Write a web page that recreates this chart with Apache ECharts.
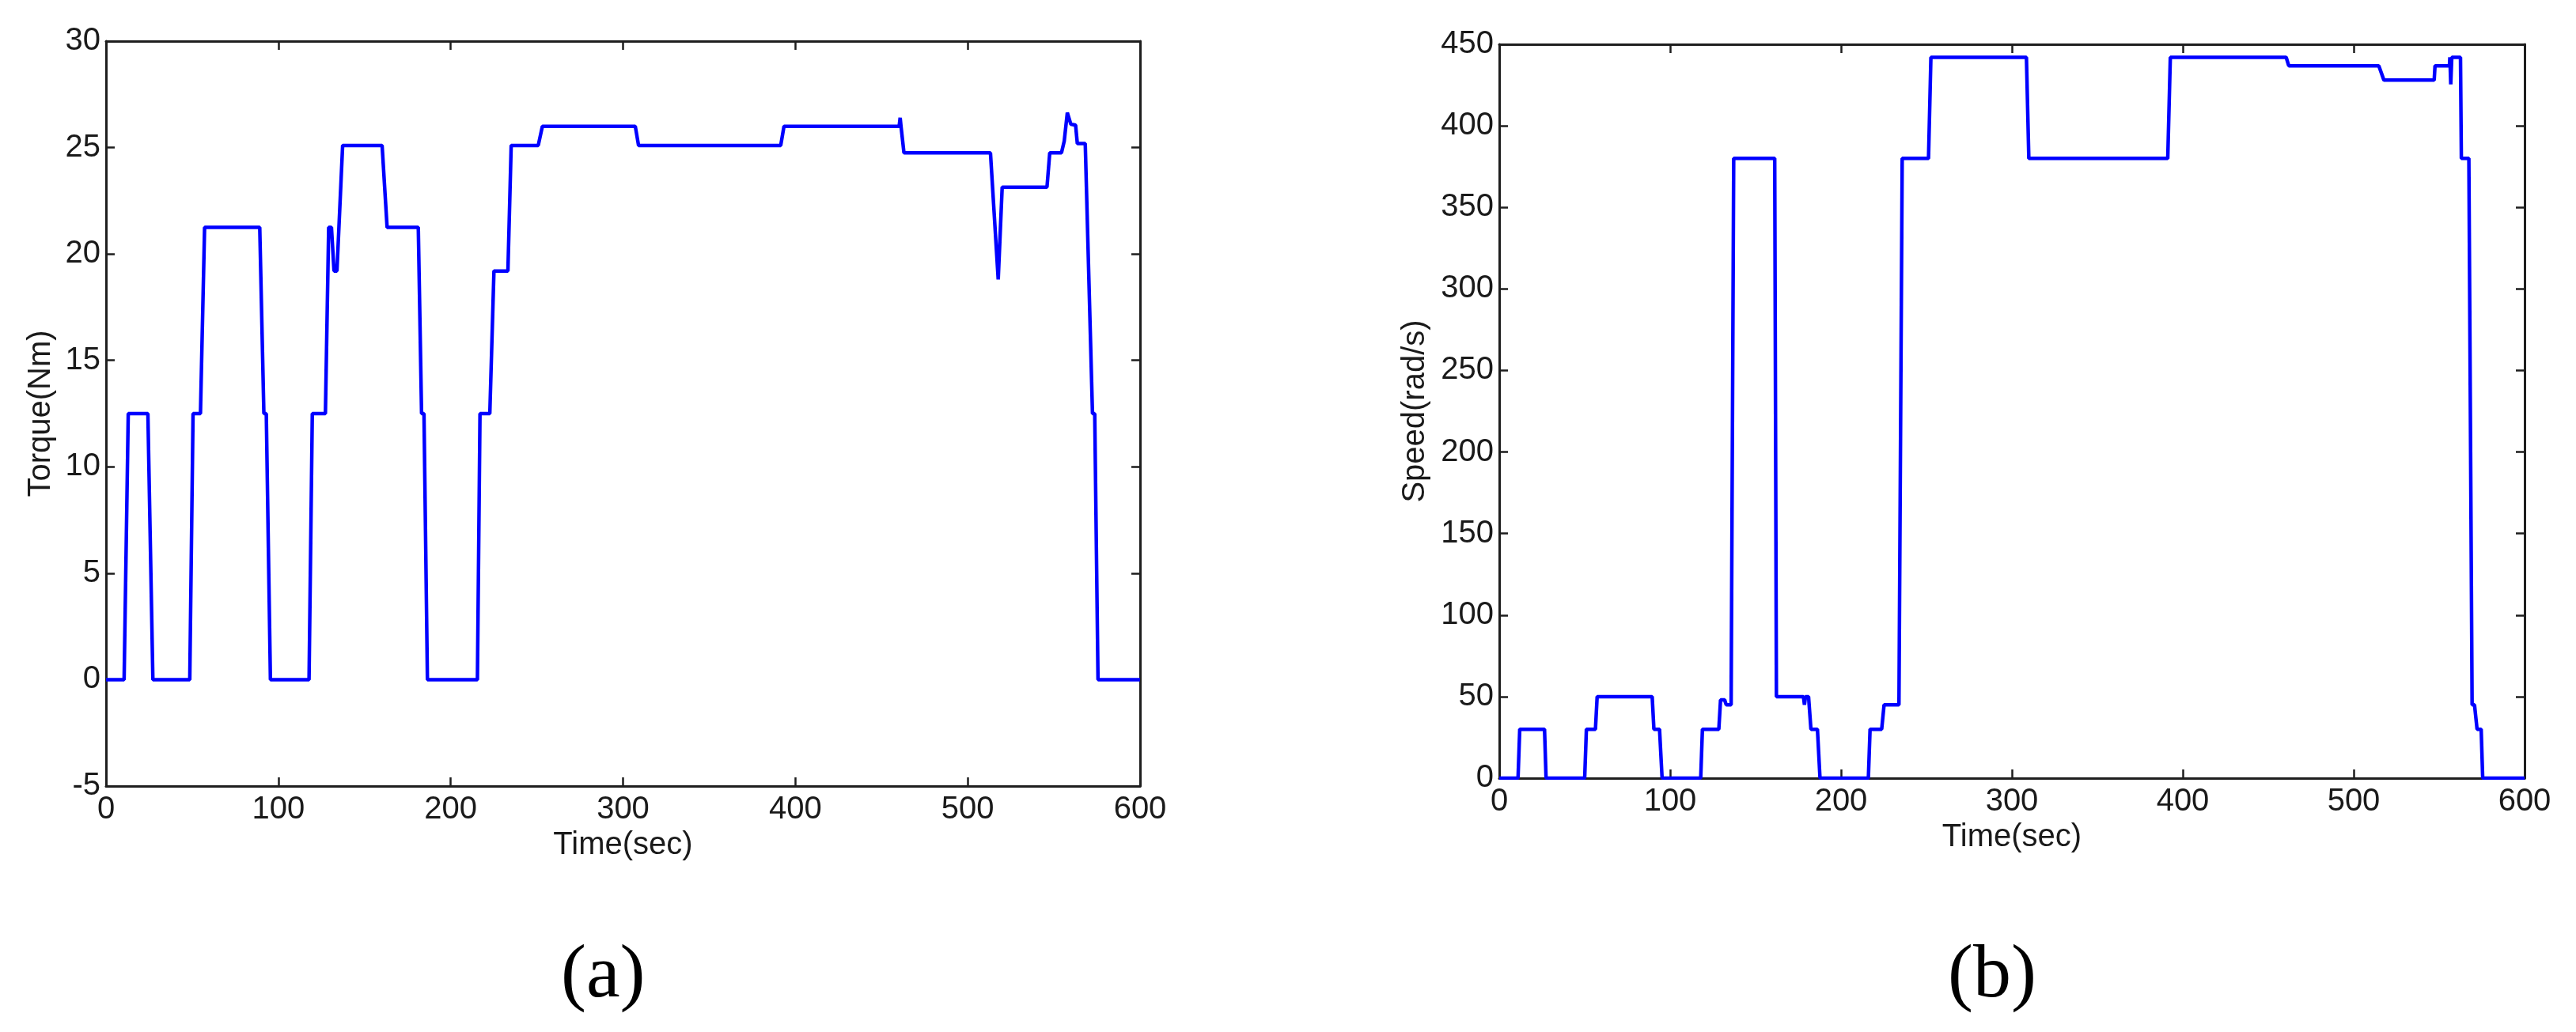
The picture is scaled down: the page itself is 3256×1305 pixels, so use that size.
<!DOCTYPE html>
<html>
<head>
<meta charset="utf-8">
<script src="https://cdn.jsdelivr.net/npm/echarts@6/dist/echarts.min.js"></script>
<style>
  html, body { margin: 0; padding: 0; background: #fff; }
  #ch { width: 3256px; height: 1305px; }
</style>
</head>
<body>
<div id="ch"></div>
<script>
// (a) torque vs time
var torqueT = [0, 10.5, 12.9, 24.3, 27.2, 48.6, 50.5, 54.8, 57.2, 89.2, 91.6, 93, 95.4,
  117.8, 119.7, 127.3, 129.2, 130.8, 132.3, 134, 137.3, 160.2, 163.1, 181.2, 183.1, 184.5, 186.5,
  215.5, 217, 222.7, 225.1, 233.2, 235.1, 250.8, 253.2, 307.1, 309, 391.5, 393.4, 460.2, 460.8, 461.3, 463,
  513.2, 517.7, 520, 546, 547.6, 554.4, 556, 557.8, 559.8, 562.6, 563.6, 568.2, 572.4, 573.7, 575.6, 600];
var torqueV = [0, 0, 12.5, 12.5, 0, 0, 12.5, 12.5, 21.25, 21.25, 12.5, 12.5, 0,
  0, 12.5, 12.5, 21.25, 21.25, 19.2, 19.2, 25.1, 25.1, 21.25, 21.25, 12.5, 12.5, 0,
  0, 12.5, 12.5, 19.2, 19.2, 25.1, 25.1, 26, 26, 25.1, 25.1, 26, 26, 26.4, 26, 24.75,
  24.75, 18.8, 23.14, 23.14, 24.75, 24.75, 25.3, 26.64, 26.1, 26.05, 25.19, 25.19, 12.5, 12.5, 0, 0];

// (b) speed vs time
var speedT = [0, 11, 12, 26.5, 27.4, 50, 51, 56.3, 57.3, 89.5, 90.5, 93.8, 95.3,
  117.9, 118.9, 128.5, 129.5, 131.9, 132.8, 135.7, 137.2, 161.2, 162.2, 178, 178.6, 179.2, 181, 182.4, 186.2, 187.7,
  216, 217, 223.8, 225.2, 233.9, 235.8, 251.2, 252.6, 308.5, 309.9, 391.2, 392.7, 460.5, 462,
  514.7, 517.7, 547.1, 547.6, 556, 556.3, 556.8, 557.4, 562.5, 563, 567.4, 569.3, 570.7, 572.2, 574.6, 575.5, 600];
var speedV = [0, 0, 30, 30, 0, 0, 30, 30, 50, 50, 30, 30, 0,
  0, 30, 30, 48, 48, 45, 45, 380, 380, 50, 50, 45, 50, 50, 30, 30, 0,
  0, 30, 30, 45, 45, 380, 380, 442, 442, 380, 380, 442, 442, 436.8,
  436.8, 428, 428, 436.8, 436.8, 442, 425.4, 442, 442, 380, 380, 45, 45, 30, 30, 0, 0];

var timeTicks = [0, 600, 100];
var torqueTicks = [-5, 30, 5];
var speedTicks = [0, 450, 50];

function pairs(xs, ys) {
  return xs.map(function (x, i) { return [x, ys[i]]; });
}

var frame = { show: true, onZero: false, lineStyle: { color: '#1e1e1e', width: 3 } };
var ticks = { show: true, inside: true, length: 11, lineStyle: { color: '#1e1e1e', width: 2.5 } };
var lbl = { color: '#1a1a1a', fontFamily: 'Liberation Sans', fontSize: 40 };

function xAx(grid, pos, ticks3, withLabel) {
  return {
    type: 'value', gridIndex: grid, position: pos,
    min: ticks3[0], max: ticks3[1], interval: ticks3[2],
    axisLine: frame, axisTick: ticks, splitLine: { show: false },
    axisLabel: withLabel ? Object.assign({ margin: 10, showMinLabel: true, showMaxLabel: true }, lbl) : { show: false },
    name: withLabel ? 'Time(sec)' : '', nameLocation: 'middle', nameGap: 48,
    nameTextStyle: lbl
  };
}
function yAx(grid, pos, ticks3, withLabel, name, gap) {
  return {
    type: 'value', gridIndex: grid, position: pos,
    min: ticks3[0], max: ticks3[1], interval: ticks3[2],
    axisLine: frame, axisTick: ticks, splitLine: { show: false },
    axisLabel: withLabel ? Object.assign({ margin: 7, showMinLabel: true, showMaxLabel: true }, lbl) : { show: false },
    name: withLabel ? name : '', nameLocation: 'middle', nameGap: gap,
    nameTextStyle: lbl
  };
}

window.onload = function () {
  var ch = echarts.init(document.getElementById('ch'));
  var op = {
    backgroundColor: '#fff',
    animation: false,
    grid: [
      { left: 134, top: 52, width: 1307, height: 942 },
      { left: 1895, top: 56, width: 1296, height: 928 }
    ],
    xAxis: [
      xAx(0, 'bottom', timeTicks, true),
      xAx(0, 'top', timeTicks, false),
      xAx(1, 'bottom', timeTicks, true),
      xAx(1, 'top', timeTicks, false)
    ],
    yAxis: [
      yAx(0, 'left', torqueTicks, true, 'Torque(Nm)', 62),
      yAx(0, 'right', torqueTicks, false, '', 0),
      yAx(1, 'left', speedTicks, true, 'Speed(rad/s)', 86),
      yAx(1, 'right', speedTicks, false, '', 0)
    ],
    series: [
      {
        name: 'Torque', type: 'line', xAxisIndex: 0, yAxisIndex: 0,
        showSymbol: false, lineStyle: { color: '#0000ff', width: 4.5 },
        data: pairs(torqueT, torqueV)
      },
      {
        name: 'Speed', type: 'line', xAxisIndex: 2, yAxisIndex: 2,
        showSymbol: false, lineStyle: { color: '#0000ff', width: 4.5 },
        data: pairs(speedT, speedV)
      }
    ],
    graphic: [
      { type: 'text', left: 757 - 48, top: 1187, style: { text: '(a)', fill: '#000', font: '96px "Liberation Serif"' } },
      { type: 'text', left: 2510 - 48, top: 1187, style: { text: '(b)', fill: '#000', font: '96px "Liberation Serif"' } }
    ]
  };
  ch.setOption(op);
};
</script>
</body>
</html>
